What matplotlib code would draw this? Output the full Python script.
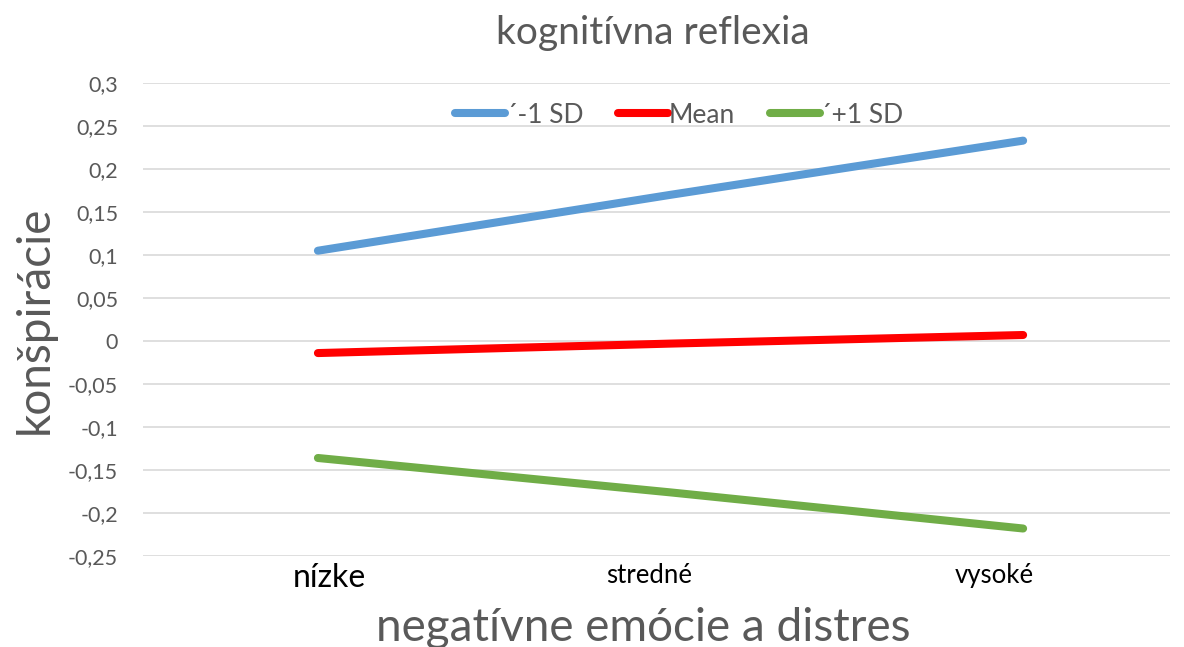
import matplotlib.pyplot as plt
import matplotlib.transforms as mtransforms
from matplotlib.ticker import FuncFormatter
import numpy as np

plt.rcParams['font.family'] = ['Lato', 'DejaVu Sans']

# data
categories = ['nízke', 'stredné', 'vysoké']
series_names = ['´-1 SD', 'Mean', '´+1 SD']
low_sd = [0.105, 0.170, 0.233]
mean = [-0.014, -0.003, 0.007]
high_sd = [-0.136, -0.176, -0.218]
series = [low_sd, mean, high_sd]
colors = ['#5b9bd5', '#ff0000', '#70ad47']

grey = '#595959'


def comma_fmt(v, pos):
    v = round(v, 2) + 0.0
    return f'{v:g}'.replace('.', ',')


fig = plt.figure(figsize=(11.84, 6.47), dpi=100)
ax = fig.add_axes([0.1208, 0.1406, 0.8675, 0.7311])

x = np.arange(len(categories))
for vals, name, col in zip(series, series_names, colors):
    ax.plot(x, vals, color=col, lw=5.8, solid_capstyle='round', label=name)

# axes decoration
ax.set_ylim(-0.25, 0.3)
ax.set_xlim(-0.496, 2.417)
ax.set_yticks(np.round(np.arange(-0.25, 0.31, 0.05), 2))
ax.yaxis.set_major_formatter(FuncFormatter(comma_fmt))
ax.grid(axis='y', color='#d9d9d9', lw=1.2)
ax.set_axisbelow(True)
for s in ax.spines.values():
    s.set_visible(False)
ax.tick_params(axis='y', length=0, pad=18, labelsize=15.5, labelcolor=grey)
ax.tick_params(axis='x', length=0, pad=5)

ax.set_xticks(x, labels=categories)
offsets = [11, -21, -29]
sizes = [23, 18.5, 18.5]
for lab, off, sz in zip(ax.get_xticklabels(), offsets, sizes):
    lab.set_fontsize(sz)
    lab.set_color('black')
    lab.set_transform(lab.get_transform() +
                      mtransforms.ScaledTranslation(off / 100, 0, fig.dpi_scale_trans))

ax.set_ylabel('konšpirácie', fontsize=33, color=grey, va='center')
ax.yaxis.set_label_coords(-0.105, 0.5)
ax.set_xlabel('negatívne emócie a distres', fontsize=33, color=grey, va='center')
ax.xaxis.set_label_coords(0.487, -0.152)

fig.text(653 / 1184, 1 - 33 / 647, 'kognitívna reflexia', fontsize=28,
         color=grey, ha='center', va='center')

leg = ax.legend(loc='center', bbox_to_anchor=(0.522, 0.932), ncol=3,
                frameon=False, fontsize=19, handlelength=1.9,
                handletextpad=0.05, columnspacing=1.3)
for t in leg.get_texts():
    t.set_color(grey)

fig.savefig('out.png', dpi=100)
